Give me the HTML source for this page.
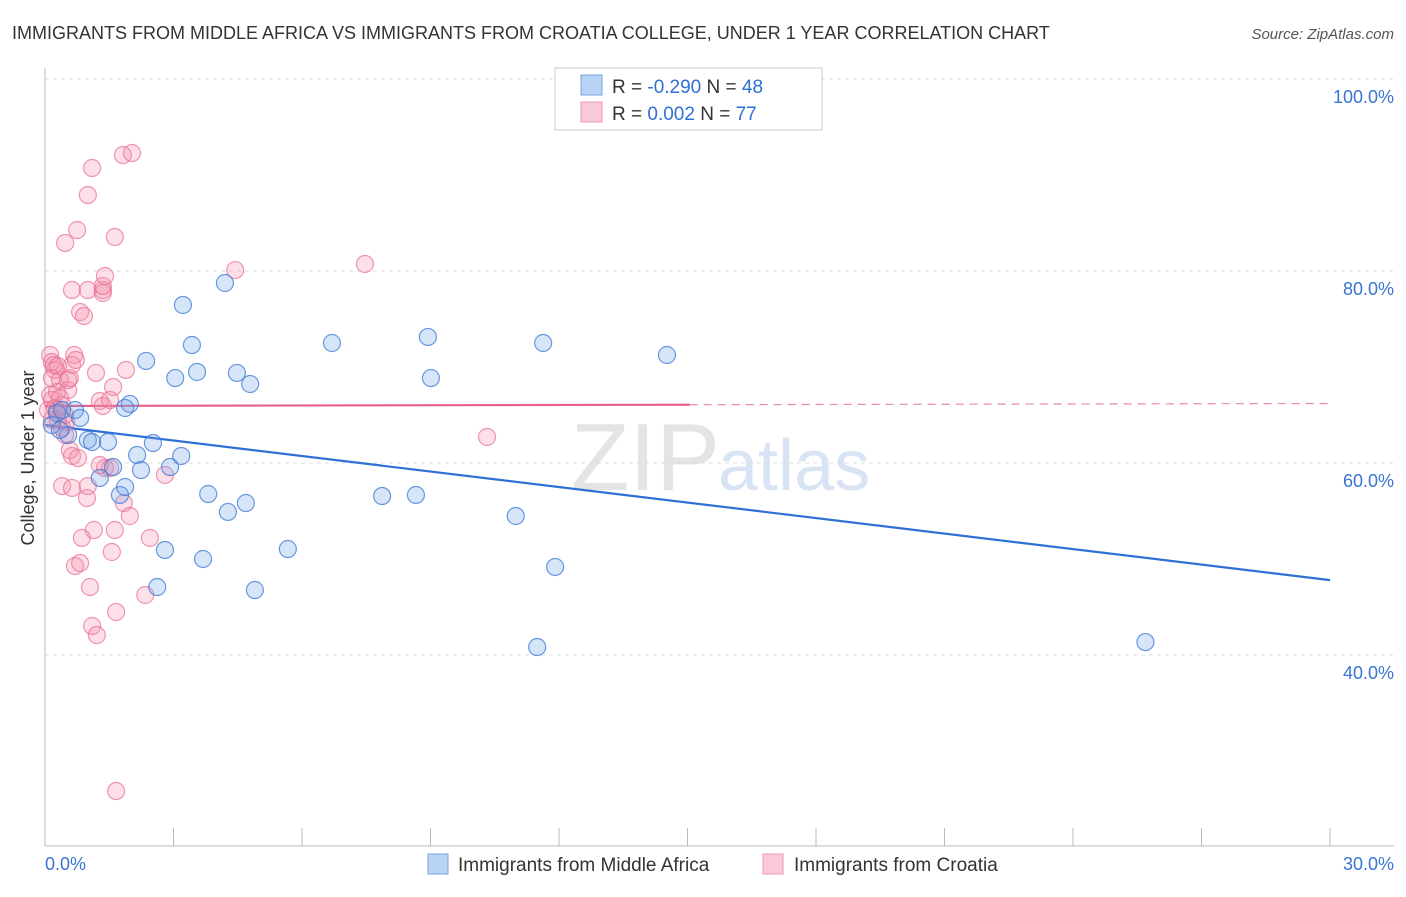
<!DOCTYPE html>
<html><head><meta charset="utf-8"><style>
body{margin:0;background:#fff;font-family:"Liberation Sans",sans-serif;}
svg text{font-family:"Liberation Sans",sans-serif;}
</style></head><body>
<svg id="chart" width="1406" height="892">
<text x="12" y="39" font-size="18" fill="#333">IMMIGRANTS FROM MIDDLE AFRICA VS IMMIGRANTS FROM CROATIA COLLEGE, UNDER 1 YEAR CORRELATION CHART</text>
<text x="1394" y="39" font-size="15" fill="#555" font-style="italic" text-anchor="end">Source: ZipAtlas.com</text>
<text x="720" y="490" font-size="96" fill="#e4e4e4" text-anchor="end" font-family="Liberation Serif">ZIP</text>
<text x="718" y="490" font-size="72" fill="#d8e4f4">atlas</text>
<g id="grid"></g><g id="axes"></g><g id="trend"></g><g id="pts"></g>
<g>
<rect x="555" y="68" width="267" height="62" fill="#fff" stroke="#ccc"/>
<rect x="581" y="75" width="21" height="20" fill="#b8d3f5" stroke="#7aa6e0"/>
<rect x="581" y="102" width="21" height="20" fill="#f9c9d7" stroke="#ec9ab2"/>
<text x="612" y="93" font-size="19" fill="#333">R = <tspan fill="#2f6fd6">-0.290</tspan>   N = <tspan fill="#2f6fd6">48</tspan></text>
<text x="612" y="120" font-size="19" fill="#333">R =  <tspan fill="#2f6fd6"> 0.002</tspan>   N = <tspan fill="#2f6fd6">77</tspan></text>
</g>
<g>
<rect x="428" y="854" width="20" height="20" fill="#b8d3f5" stroke="#7aa6e0"/>
<text x="458" y="871" font-size="19" fill="#333">Immigrants from Middle Africa</text>
<rect x="763" y="854" width="20" height="20" fill="#f9c9d7" stroke="#ec9ab2"/>
<text x="794" y="871" font-size="19" fill="#333">Immigrants from Croatia</text>
</g>
<text x="45" y="870" font-size="18" fill="#3a74d6">0.0%</text>
<text x="1394" y="870" font-size="18" fill="#3a74d6" text-anchor="end">30.0%</text>
<text transform="translate(34,458) rotate(-90)" font-size="18" fill="#333" text-anchor="middle">College, Under 1 year</text>
</svg>
<script>
const blueX=[0.16,0.28,0.40,0.54,0.70,0.82,1.00,1.10,1.47,1.59,1.28,1.75,1.87,1.98,2.15,2.24,2.36,2.52,2.62,2.80,2.92,3.04,3.18,3.22,3.43,3.55,3.69,3.81,4.20,4.27,4.48,4.69,4.79,4.90,5.67,6.70,7.87,8.66,8.94,9.01,10.99,11.49,11.63,11.91,14.52,25.69,0.35,1.87];
const blueY=[63.96,65.21,65.52,62.92,65.52,64.69,62.40,62.19,62.19,59.58,58.44,56.67,57.50,66.15,60.83,59.27,70.63,62.08,47.08,50.94,59.58,68.85,60.73,76.46,72.29,69.48,50.0,56.77,78.75,54.90,69.38,55.83,68.23,46.77,51.04,72.50,56.56,56.67,73.13,68.85,54.48,40.83,72.5,49.17,71.25,41.35,63.44,65.73];
const pinkX=[0.12,0.16,0.23,0.12,0.16,0.07,0.23,0.30,0.40,0.47,0.35,0.54,0.58,0.63,0.68,0.72,0.16,0.28,0.47,0.58,0.63,0.40,0.63,0.77,0.70,0.82,0.86,0.98,1.00,1.05,1.10,1.14,1.21,1.00,1.10,0.47,0.75,0.63,1.00,1.35,1.35,1.35,0.82,0.91,1.19,1.28,1.35,1.40,1.40,1.52,1.52,1.56,1.59,1.63,1.66,1.63,1.66,1.82,1.84,1.89,1.98,2.03,2.45,2.34,2.80,4.44,7.47,10.32,0.21,0.30,0.35,0.49,0.16,1.28,0.54,0.28,0.40];
const pinkY=[71.25,70.52,69.69,67.08,66.56,65.52,65.73,64.48,66.04,65.0,68.65,67.6,68.85,70.21,71.25,70.73,68.85,67.4,62.92,61.35,60.73,57.6,57.4,60.52,49.27,49.58,52.19,56.35,57.6,47.08,43.02,53.02,42.08,87.92,90.73,82.92,84.27,78.02,78.02,78.02,77.71,78.44,75.73,75.31,69.38,66.46,65.94,79.48,59.48,59.48,66.56,50.73,67.92,53.02,44.48,83.54,25.83,92.08,55.83,69.69,54.48,92.29,52.19,46.25,58.75,80.1,80.73,62.71,70.21,70.1,66.77,64.27,64.48,59.79,68.65,65.52,63.65];
const yTicks=[100,80,60,40];
const yTickLabels=["100.0%","80.0%","60.0%","40.0%"];
const blueTrend=[63.96,47.8]; // y at x=0, x=30
const pinkTrend=[65.94,66.2];
const pinkSolidEnd=15.05;

const X=v=>45+v*1285/30;
const Y=v=>79+(100-v)*9.6;
const NS="http://www.w3.org/2000/svg";
function mk(tag,parent,attrs){const e=document.createElementNS(NS,tag);for(const k in attrs)e.setAttribute(k,attrs[k]);parent.appendChild(e);return e;}
const grid=document.getElementById('grid'),axes=document.getElementById('axes'),trend=document.getElementById('trend'),pts=document.getElementById('pts');
yTicks.forEach((t,i)=>{
 const l=mk('line',grid,{x1:45,x2:1394,y1:Y(t),y2:Y(t),stroke:'#ddd','stroke-dasharray':'4,4'});
 
 
 const tx=mk('text',grid,{x:1394,y:Y(t)+24,'font-size':18,fill:'#3a74d6','text-anchor':'end'});
 tx.textContent=yTickLabels[i];
 
 
});
const ya=mk('line',axes,{x1:45,x2:45,y1:68,y2:846,stroke:'#bbb'});


const xa=mk('line',axes,{x1:45,x2:1394,y1:846,y2:846,stroke:'#bbb'});


for(let i=1;i<=10;i++){
 const t=mk('line',axes,{x1:X(i*3),x2:X(i*3),y1:828,y2:846,stroke:'#bbb'});
 
 
}
const bl=mk('line',trend,{x1:X(0),y1:Y(blueTrend[0]),x2:X(30),y2:Y(blueTrend[1]),stroke:'#2f6fd6','stroke-width':2.2});


const pm=pinkTrend[0]+(pinkTrend[1]-pinkTrend[0])*pinkSolidEnd/30;
const pl=mk('line',trend,{x1:X(0),y1:Y(pinkTrend[0]),x2:X(pinkSolidEnd),y2:Y(pm),stroke:'#e8608a','stroke-width':2.2});


const pd=mk('line',trend,{x1:X(pinkSolidEnd),y1:Y(pm),x2:X(30),y2:Y(pinkTrend[1]),stroke:'#e88aa5','stroke-width':1.2,'stroke-dasharray':'8,6'});


pinkX.forEach((x,i)=>{
 const c=mk('circle',pts,{cx:X(x),cy:Y(pinkY[i]),r:8.5,fill:'rgba(244,140,170,0.28)',stroke:'rgba(232,110,150,0.7)','stroke-width':1.2});
 
 
});
blueX.forEach((x,i)=>{
 const c=mk('circle',pts,{cx:X(x),cy:Y(blueY[i]),r:8.5,fill:'rgba(110,160,230,0.28)',stroke:'rgba(60,120,215,0.75)','stroke-width':1.2});
 
 
});
</script>
</body></html>
